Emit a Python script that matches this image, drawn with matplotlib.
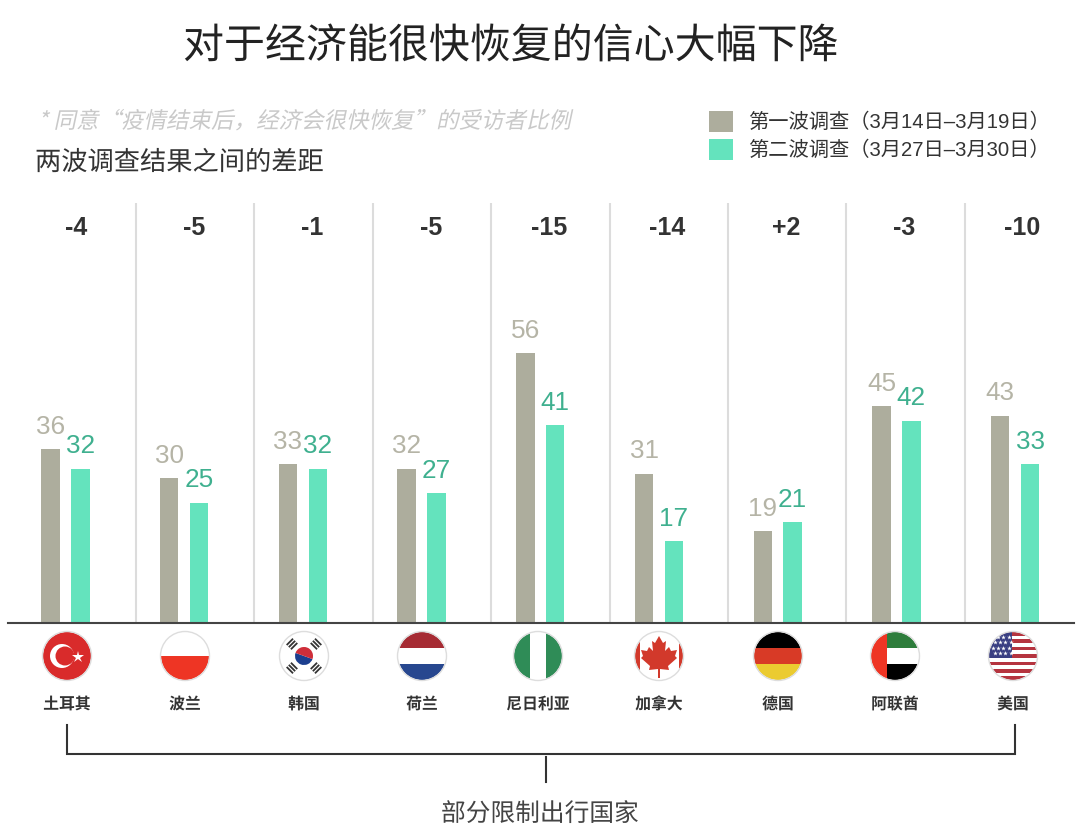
import matplotlib
matplotlib.use('Agg')
import matplotlib.pyplot as plt
import numpy as np
from matplotlib.patches import Circle, Rectangle, Polygon, Wedge
from matplotlib.patheffects import AbstractPathEffect, Normal
from matplotlib.transforms import Affine2D

CJK = ['Noto Sans CJK SC']
plt.rcParams['font.family'] = ['Liberation Sans', 'Noto Sans CJK SC']

countries = ['土耳其', '波兰', '韩国', '荷兰', '尼日利亚', '加拿大', '德国', '阿联酋', '美国']
wave1 = [36, 30, 33, 32, 56, 31, 19, 45, 43]
wave2 = [32, 25, 32, 27, 41, 17, 21, 42, 33]
diffs = ['-4', '-5', '-1', '-5', '-15', '-14', '+2', '-3', '-10']
legend_labels = ['第一波调查（3月14日–3月19日）', '第二波调查（3月27日–3月30日）']

GRAY = '#ADAD9D'
GREEN = '#64E3BD'
W, H = 1080, 830


# 斜体效果：CJK 字体没有 italic，用路径错切
class Shear(AbstractPathEffect):
    def draw_path(self, renderer, gc, tpath, affine, rgbFace=None):
        renderer.draw_path(gc, tpath, Affine2D().skew_deg(12, 0) + affine, rgbFace)


fig = plt.figure(figsize=(W / 100, H / 100), dpi=100, facecolor='white')

# ============ 柱子 ============
px_per_unit = 4.82
step = 118.7
x0 = 65.5
left, right, base, top = 8, 1074, 623, 203
ax = fig.add_axes([left / W, 1 - base / H, (right - left) / W, (base - top) / H])
ax.set_xlim((left - x0) / step, (right - x0) / step)
ax.set_ylim(0, (base - top) / px_per_unit)
ax.patch.set_visible(False)
for s in ['top', 'left', 'right']:
    ax.spines[s].set_visible(False)
ax.spines['bottom'].set_color('#444444')
ax.spines['bottom'].set_linewidth(1.5)
ax.set_xticks([])
ax.set_yticks([])

x = np.arange(len(countries))
bw = 0.155
off = 0.126
b1 = ax.bar(x - off, wave1, bw, color=GRAY, label=legend_labels[0])
b2 = ax.bar(x + off, wave2, bw, color=GREEN, label=legend_labels[1])

# 分隔线间距比柱组略小
for i in x[:-1]:
    ax.axvline((136 + 118.4 * i - x0) / step, color='#DCDCDC', lw=1.5, zorder=0)

for i in x:
    ax.annotate(str(wave1[i]), (i - off, wave1[i]), xytext=(0, 11), textcoords='offset points',
                ha='center', va='baseline', fontsize=18.8, color='#B5B4A6')
    ax.annotate(str(wave2[i]), (i + off, wave2[i]), xytext=(0, 11), textcoords='offset points',
                ha='center', va='baseline', fontsize=18.8, color='#3FB08F')

ax.legend(handles=[b1, b2], loc='upper left', bbox_to_anchor=(703 / W, 1 - 105 / H),
          bbox_transform=fig.transFigure, frameon=False, fontsize=14.6, handlelength=1.18,
          handleheight=1.2, handletextpad=0.75, labelspacing=0.32, borderpad=0.3, borderaxespad=0,
          labelcolor='#333333')

# ============ 文字和旗帜（像素坐标层）============
ov = fig.add_axes([0, 0, 1, 1])
ov.set_xlim(0, W)
ov.set_ylim(H, 0)
ov.axis('off')
ov.patch.set_visible(False)

for i in x:
    ov.text(76 + 118.3 * i, 228, diffs[i], ha='center', va='center', fontsize=18, fontweight='bold',
            color='#333333')

# 中文标题按路径绘制，基线才稳定
ov.text(511, 58, '对于经济能很快恢复的信心大幅下降', ha='center', va='baseline', family=CJK,
        fontsize=29.5, color='#222222', path_effects=[Normal()])
ov.text(38, 128, '* 同意“疫情结束后，经济会很快恢复”的受访者比例', ha='left', va='baseline',
        family=CJK, fontsize=16.2, color='#C9C9C9', path_effects=[Shear()])
ov.text(35, 170, '两波调查结果之间的差距', ha='left', va='baseline', family=CJK, fontsize=18.9,
        color='#333333', path_effects=[Normal()])

flag_x = [67, 185, 304, 422, 538, 659, 778, 895, 1013]
flag_y = 656
R = 24


def rect(x1, y1, w, h, color, clip):
    p = Rectangle((x1, y1), w, h, facecolor=color, edgecolor='none')
    ov.add_patch(p)
    p.set_clip_path(clip)


def flag(i):
    cx = flag_x[i]
    cy = flag_y
    clip = Circle((cx, cy), R, transform=ov.transData)
    ov.add_patch(Circle((cx, cy), R, facecolor='white', edgecolor='none'))
    if i == 0:  # 土耳其
        rect(cx - R, cy - R, 2 * R, 2 * R, '#D92B2B', clip)
        ov.add_patch(Circle((cx - 5, cy), 12, facecolor='white', edgecolor='none'))
        ov.add_patch(Circle((cx - 2, cy), 9.5, facecolor='#D92B2B', edgecolor='none'))
        ov.plot([cx + 11], [cy + 1], marker='*', ms=9, color='white', mew=0)
    elif i == 1:  # 波兰
        rect(cx - R, cy, 2 * R, R, '#EE3524', clip)
    elif i == 2:  # 韩国
        ov.add_patch(Wedge((cx, cy), 9, 20, 200, facecolor='#1C3F8F', edgecolor='none'))
        ov.add_patch(Wedge((cx, cy), 9, 200, 380, facecolor='#CF2E3A', edgecolor='none'))
        for sx, sy in [(-1, -1), (1, -1), (-1, 1), (1, 1)]:
            d = np.array([sx, sy]) / np.sqrt(2)
            n = np.array([-sy, sx]) / np.sqrt(2)
            for k in [14, 17, 20]:
                c = np.array([cx, cy]) + d * k
                a = c - n * 4.5
                b = c + n * 4.5
                ov.plot([a[0], b[0]], [a[1], b[1]], color='#333333', lw=1.3, solid_capstyle='butt')
    elif i == 3:  # 荷兰
        rect(cx - R, cy - R, 2 * R, 16, '#A62B33', clip)
        rect(cx - R, cy + 8, 2 * R, 16, '#27478F', clip)
    elif i == 4:  # 尼日利亚
        rect(cx - R, cy - R, 16, 2 * R, '#2F8C57', clip)
        rect(cx + 8, cy - R, 16, 2 * R, '#2F8C57', clip)
    elif i == 5:  # 加拿大
        rect(cx - R, cy - R, 4.5, 2 * R, '#D2392B', clip)
        rect(cx + R - 4.5, cy - R, 4.5, 2 * R, '#D2392B', clip)
        leaf = np.array([(0, -20), (4, -13), (7, -15), (6, -5), (10, -9), (12, -5), (18, -6), (16, 0),
                         (18, 2), (9, 10), (10, 14), (1, 13), (1, 22), (-1, 22), (-1, 13), (-10, 14),
                         (-9, 10), (-18, 2), (-16, 0), (-18, -6), (-12, -5), (-10, -9), (-6, -5),
                         (-7, -15), (-4, -13)], dtype=float)
        ov.add_patch(Polygon(leaf + [cx, cy], facecolor='#D2392B', edgecolor='none'))
    elif i == 6:  # 德国
        rect(cx - R, cy - R, 2 * R, 16, '#000000', clip)
        rect(cx - R, cy - 8, 2 * R, 16, '#D83A26', clip)
        rect(cx - R, cy + 8, 2 * R, 16, '#EBCB30', clip)
    elif i == 7:  # 阿联酋
        rect(cx - 8, cy - R, 32, 16, '#2E7D3C', clip)
        rect(cx - 8, cy + 8, 32, 16, '#000000', clip)
        rect(cx - R, cy - R, 16, 2 * R, '#EE3524', clip)
    elif i == 8:  # 美国
        sh = 2 * R / 13
        for k in range(0, 13, 2):
            rect(cx - R, cy - R + k * sh, 2 * R, sh, '#B5343F', clip)
        rect(cx - R, cy - R, 23, 7 * sh, '#3A3F82', clip)
        for row in range(4):
            for col in range(4):
                px = cx - R + 4 + col * 5.2 + (row % 2) * 2
                py = cy - R + 5 + row * 5.4
                star = ov.plot([px], [py], marker='*', ms=3.5, color='white', mew=0)[0]
                star.set_clip_path(clip)
    ov.add_patch(Circle((cx, cy), R + 0.5, facecolor='none', edgecolor='#DDDDDD', lw=1))


for i in range(len(countries)):
    flag(i)
    ov.text(flag_x[i], 709, countries[i], ha='center', va='baseline', family=CJK, fontsize=11.4,
            fontweight='bold', color='#333333', path_effects=[Normal()])

# 底部括号
ov.plot([67, 67, 1015, 1015], [725, 754, 754, 725], color='#333333', lw=1.5, solid_joinstyle='miter')
ov.plot([546, 546], [757, 782], color='#333333', lw=1.5)
ov.text(540, 821, '部分限制出行国家', ha='center', va='baseline', family=CJK, fontsize=17.8, color='#444444',
        path_effects=[Normal()])

fig.savefig('out.png', dpi=100)
